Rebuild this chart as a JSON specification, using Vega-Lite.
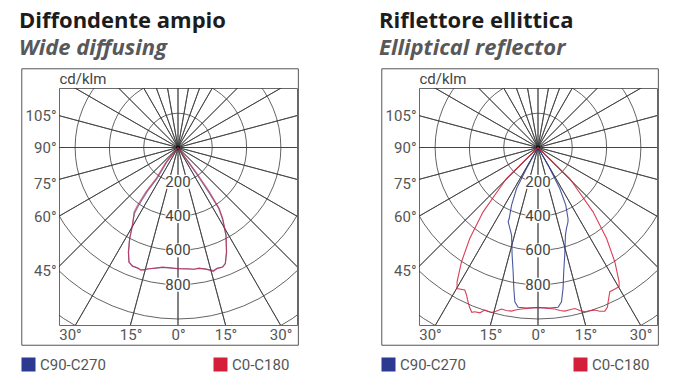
{
  "$schema": "https://vega.github.io/schema/vega-lite/v6.json",
  "background": "white",
  "padding": {"left": 18, "top": 9, "right": 10, "bottom": 10},
  "bounds": "flush",
  "spacing": 122,
  "config": {
    "view": {"stroke": "#6a6a6a", "strokeWidth": 1},
    "axis": {"domain": false, "ticks": false, "grid": false, "labelFont": "Roboto", "labelFontSize": 15, "labelColor": "#555555", "labelOverlap": false, "labelFlush": false, "labelBound": false},
    "title": {"font": "Open Sans", "fontSize": 22, "fontWeight": 700, "color": "#1c1c1c", "subtitleFont": "Open Sans", "subtitleFontSize": 22, "subtitleFontWeight": 700, "subtitleFontStyle": "italic", "subtitleColor": "#58585a", "subtitlePadding": 5, "anchor": "start", "frame": "group", "dx": -40, "offset": 8}
  },
  "resolve": {"scale": {"color": "independent"}, "legend": {"color": "independent"}},
  "datasets": {
    "grid_circles": [{"r": 200}, {"r": 400}, {"r": 600}, {"r": 800}, {"r": 1000}, {"r": 1200}],
    "grid_rays": [{"theta": 0}, {"theta": 10}, {"theta": 20}, {"theta": 30}, {"theta": 45}, {"theta": 60}, {"theta": 75}, {"theta": 90}, {"theta": 105}, {"theta": 120}, {"theta": 135}, {"theta": 150}, {"theta": 165}, {"theta": 180}, {"theta": 195}, {"theta": 210}, {"theta": 225}, {"theta": 240}, {"theta": 255}, {"theta": 270}, {"theta": 285}, {"theta": 300}, {"theta": 315}, {"theta": 330}, {"theta": 340}, {"theta": 350}],
    "ring_labels": [{"d": 200, "label": "200"}, {"d": 400, "label": "400"}, {"d": 600, "label": "600"}, {"d": 800, "label": "800"}],
    "center": [{"c": 0}],
    "wide_diffusing": [
      {"series": "C90-C270", "i": 0, "x": 0, "d": 0},
      {"series": "C90-C270", "i": 1, "x": -66, "d": 85},
      {"series": "C90-C270", "i": 2, "x": -123, "d": 182},
      {"series": "C90-C270", "i": 3, "x": -181, "d": 259},
      {"series": "C90-C270", "i": 4, "x": -230, "d": 338},
      {"series": "C90-C270", "i": 5, "x": -254, "d": 384},
      {"series": "C90-C270", "i": 6, "x": -266, "d": 452},
      {"series": "C90-C270", "i": 7, "x": -282, "d": 532},
      {"series": "C90-C270", "i": 8, "x": -289, "d": 609},
      {"series": "C90-C270", "i": 9, "x": -286, "d": 668},
      {"series": "C90-C270", "i": 10, "x": -266, "d": 692},
      {"series": "C90-C270", "i": 11, "x": -238, "d": 702},
      {"series": "C90-C270", "i": 12, "x": -220, "d": 710},
      {"series": "C90-C270", "i": 13, "x": -200, "d": 712},
      {"series": "C90-C270", "i": 14, "x": -168, "d": 707},
      {"series": "C90-C270", "i": 15, "x": -130, "d": 703},
      {"series": "C90-C270", "i": 16, "x": -91, "d": 699},
      {"series": "C90-C270", "i": 17, "x": -54, "d": 702},
      {"series": "C90-C270", "i": 18, "x": 0, "d": 707},
      {"series": "C90-C270", "i": 19, "x": 52, "d": 708},
      {"series": "C90-C270", "i": 20, "x": 93, "d": 710},
      {"series": "C90-C270", "i": 21, "x": 122, "d": 705},
      {"series": "C90-C270", "i": 22, "x": 163, "d": 709},
      {"series": "C90-C270", "i": 23, "x": 187, "d": 714},
      {"series": "C90-C270", "i": 24, "x": 206, "d": 718},
      {"series": "C90-C270", "i": 25, "x": 227, "d": 705},
      {"series": "C90-C270", "i": 26, "x": 260, "d": 697},
      {"series": "C90-C270", "i": 27, "x": 276, "d": 677},
      {"series": "C90-C270", "i": 28, "x": 283, "d": 609},
      {"series": "C90-C270", "i": 29, "x": 280, "d": 512},
      {"series": "C90-C270", "i": 30, "x": 260, "d": 418},
      {"series": "C90-C270", "i": 31, "x": 237, "d": 354},
      {"series": "C90-C270", "i": 32, "x": 178, "d": 259},
      {"series": "C90-C270", "i": 33, "x": 101, "d": 143},
      {"series": "C90-C270", "i": 34, "x": 0, "d": 0},
      {"series": "C0-C180", "i": 0, "x": 0, "d": 0},
      {"series": "C0-C180", "i": 1, "x": -70, "d": 85},
      {"series": "C0-C180", "i": 2, "x": -128, "d": 182},
      {"series": "C0-C180", "i": 3, "x": -187, "d": 259},
      {"series": "C0-C180", "i": 4, "x": -235, "d": 335},
      {"series": "C0-C180", "i": 5, "x": -256, "d": 376},
      {"series": "C0-C180", "i": 6, "x": -265, "d": 452},
      {"series": "C0-C180", "i": 7, "x": -282, "d": 532},
      {"series": "C0-C180", "i": 8, "x": -289, "d": 609},
      {"series": "C0-C180", "i": 9, "x": -286, "d": 668},
      {"series": "C0-C180", "i": 10, "x": -265, "d": 691},
      {"series": "C0-C180", "i": 11, "x": -236, "d": 703},
      {"series": "C0-C180", "i": 12, "x": -217, "d": 717},
      {"series": "C0-C180", "i": 13, "x": -200, "d": 714},
      {"series": "C0-C180", "i": 14, "x": -168, "d": 707},
      {"series": "C0-C180", "i": 15, "x": -130, "d": 703},
      {"series": "C0-C180", "i": 16, "x": -91, "d": 697},
      {"series": "C0-C180", "i": 17, "x": -54, "d": 700},
      {"series": "C0-C180", "i": 18, "x": 0, "d": 706},
      {"series": "C0-C180", "i": 19, "x": 52, "d": 707},
      {"series": "C0-C180", "i": 20, "x": 93, "d": 710},
      {"series": "C0-C180", "i": 21, "x": 122, "d": 703},
      {"series": "C0-C180", "i": 22, "x": 163, "d": 709},
      {"series": "C0-C180", "i": 23, "x": 187, "d": 717},
      {"series": "C0-C180", "i": 24, "x": 206, "d": 723},
      {"series": "C0-C180", "i": 25, "x": 227, "d": 706},
      {"series": "C0-C180", "i": 26, "x": 260, "d": 697},
      {"series": "C0-C180", "i": 27, "x": 276, "d": 677},
      {"series": "C0-C180", "i": 28, "x": 283, "d": 609},
      {"series": "C0-C180", "i": 29, "x": 280, "d": 512},
      {"series": "C0-C180", "i": 30, "x": 261, "d": 415},
      {"series": "C0-C180", "i": 31, "x": 241, "d": 357},
      {"series": "C0-C180", "i": 32, "x": 183, "d": 259},
      {"series": "C0-C180", "i": 33, "x": 105, "d": 143},
      {"series": "C0-C180", "i": 34, "x": 0, "d": 0}
    ],
    "elliptical_reflector": [
      {"series": "C90-C270", "i": 0, "x": 0, "d": 0},
      {"series": "C90-C270", "i": 1, "x": -67, "d": 122},
      {"series": "C90-C270", "i": 2, "x": -125, "d": 239},
      {"series": "C90-C270", "i": 3, "x": -154, "d": 336},
      {"series": "C90-C270", "i": 4, "x": -168, "d": 414},
      {"series": "C90-C270", "i": 5, "x": -174, "d": 433},
      {"series": "C90-C270", "i": 6, "x": -164, "d": 472},
      {"series": "C90-C270", "i": 7, "x": -154, "d": 511},
      {"series": "C90-C270", "i": 8, "x": -151, "d": 627},
      {"series": "C90-C270", "i": 9, "x": -145, "d": 725},
      {"series": "C90-C270", "i": 10, "x": -141, "d": 822},
      {"series": "C90-C270", "i": 11, "x": -135, "d": 900},
      {"series": "C90-C270", "i": 12, "x": -116, "d": 932},
      {"series": "C90-C270", "i": 13, "x": -67, "d": 936},
      {"series": "C90-C270", "i": 14, "x": 0, "d": 933},
      {"series": "C90-C270", "i": 15, "x": 69, "d": 936},
      {"series": "C90-C270", "i": 16, "x": 117, "d": 932},
      {"series": "C90-C270", "i": 17, "x": 137, "d": 900},
      {"series": "C90-C270", "i": 18, "x": 146, "d": 822},
      {"series": "C90-C270", "i": 19, "x": 150, "d": 725},
      {"series": "C90-C270", "i": 20, "x": 156, "d": 627},
      {"series": "C90-C270", "i": 21, "x": 160, "d": 511},
      {"series": "C90-C270", "i": 22, "x": 166, "d": 472},
      {"series": "C90-C270", "i": 23, "x": 175, "d": 433},
      {"series": "C90-C270", "i": 24, "x": 175, "d": 414},
      {"series": "C90-C270", "i": 25, "x": 162, "d": 336},
      {"series": "C90-C270", "i": 26, "x": 127, "d": 239},
      {"series": "C90-C270", "i": 27, "x": 69, "d": 122},
      {"series": "C90-C270", "i": 28, "x": 0, "d": 0},
      {"series": "C0-C180", "i": 0, "x": 0, "d": 0},
      {"series": "C0-C180", "i": 1, "x": -184, "d": 181},
      {"series": "C0-C180", "i": 2, "x": -320, "d": 375},
      {"series": "C0-C180", "i": 3, "x": -398, "d": 531},
      {"series": "C0-C180", "i": 4, "x": -446, "d": 666},
      {"series": "C0-C180", "i": 5, "x": -472, "d": 783},
      {"series": "C0-C180", "i": 6, "x": -472, "d": 822},
      {"series": "C0-C180", "i": 7, "x": -427, "d": 831},
      {"series": "C0-C180", "i": 8, "x": -417, "d": 860},
      {"series": "C0-C180", "i": 9, "x": -408, "d": 900},
      {"series": "C0-C180", "i": 10, "x": -398, "d": 935},
      {"series": "C0-C180", "i": 11, "x": -386, "d": 961},
      {"series": "C0-C180", "i": 12, "x": -368, "d": 958},
      {"series": "C0-C180", "i": 13, "x": -339, "d": 964},
      {"series": "C0-C180", "i": 14, "x": -310, "d": 948},
      {"series": "C0-C180", "i": 15, "x": -271, "d": 962},
      {"series": "C0-C180", "i": 16, "x": -245, "d": 955},
      {"series": "C0-C180", "i": 17, "x": -213, "d": 942},
      {"series": "C0-C180", "i": 18, "x": -185, "d": 950},
      {"series": "C0-C180", "i": 19, "x": -155, "d": 954},
      {"series": "C0-C180", "i": 20, "x": -125, "d": 946},
      {"series": "C0-C180", "i": 21, "x": -96, "d": 942},
      {"series": "C0-C180", "i": 22, "x": -48, "d": 937},
      {"series": "C0-C180", "i": 23, "x": 0, "d": 933},
      {"series": "C0-C180", "i": 24, "x": 48, "d": 937},
      {"series": "C0-C180", "i": 25, "x": 98, "d": 942},
      {"series": "C0-C180", "i": 26, "x": 128, "d": 950},
      {"series": "C0-C180", "i": 27, "x": 156, "d": 954},
      {"series": "C0-C180", "i": 28, "x": 185, "d": 946},
      {"series": "C0-C180", "i": 29, "x": 215, "d": 939},
      {"series": "C0-C180", "i": 30, "x": 245, "d": 950},
      {"series": "C0-C180", "i": 31, "x": 273, "d": 958},
      {"series": "C0-C180", "i": 32, "x": 300, "d": 952},
      {"series": "C0-C180", "i": 33, "x": 331, "d": 948},
      {"series": "C0-C180", "i": 34, "x": 360, "d": 955},
      {"series": "C0-C180", "i": 35, "x": 390, "d": 954},
      {"series": "C0-C180", "i": 36, "x": 405, "d": 930},
      {"series": "C0-C180", "i": 37, "x": 409, "d": 900},
      {"series": "C0-C180", "i": 38, "x": 419, "d": 841},
      {"series": "C0-C180", "i": 39, "x": 438, "d": 831},
      {"series": "C0-C180", "i": 40, "x": 473, "d": 812},
      {"series": "C0-C180", "i": 41, "x": 473, "d": 783},
      {"series": "C0-C180", "i": 42, "x": 448, "d": 666},
      {"series": "C0-C180", "i": 43, "x": 400, "d": 531},
      {"series": "C0-C180", "i": 44, "x": 321, "d": 375},
      {"series": "C0-C180", "i": 45, "x": 185, "d": 181},
      {"series": "C0-C180", "i": 46, "x": 0, "d": 0}
    ]
  },
  "hconcat": [
    {
      "width": 238,
      "height": 237,
      "title": {"text": "Diffondente ampio", "subtitle": "Wide diffusing"},
      "layer": [
        {
          "data": {"name": "center"},
          "mark": {"type": "rect", "filled": false, "stroke": "#555555", "strokeWidth": 1},
          "encoding": {
            "x": {"datum": -911, "type": "quantitative", "scale": {"domain": [-694, 694], "nice": false, "zero": false}, "axis": {"title": null, "values": [-630, -277, 0, 277, 598], "labelExpr": "datum.value == 0 ? '0°' : (abs(datum.value) < 400 ? '15°' : '30°')", "labelPadding": 2}},
            "x2": {"datum": 702},
            "y": {"datum": -459, "type": "quantitative", "scale": {"domain": [-347, 1035], "reverse": true, "nice": false, "zero": false}, "axis": {"title": "cd/klm", "titleAngle": 0, "titleAlign": "left", "titleBaseline": "middle", "titleX": 0, "titleY": -10, "titleFont": "Roboto", "titleFontSize": 15, "titleFontWeight": 400, "titleColor": "#444444", "values": [-184, 0, 207, 405, 715], "labelExpr": "datum.value < -100 ? '105°' : (datum.value < 100 ? '90°' : (datum.value < 300 ? '75°' : (datum.value < 550 ? '60°' : '45°')))", "labelPadding": 3}},
            "y2": {"datum": 1153}
          }
        },
        {
          "data": {"name": "grid_circles"},
          "mark": {"type": "point", "shape": "circle", "filled": false, "stroke": "#3c3c3c", "strokeWidth": 0.8, "opacity": 1, "clip": true},
          "encoding": {
            "x": {"datum": 0, "type": "quantitative"},
            "y": {"datum": 0, "type": "quantitative"},
            "size": {"field": "r", "type": "quantitative", "legend": null, "scale": {"type": "pow", "exponent": 2, "domain": [0, 1500], "range": [0, 264600], "zero": true}}
          }
        },
        {
          "data": {"name": "grid_rays"},
          "mark": {"type": "arc", "filled": false, "stroke": "#3c3c3c", "strokeWidth": 0.8, "clip": true},
          "encoding": {
            "x": {"datum": 0, "type": "quantitative"},
            "y": {"datum": 0, "type": "quantitative"},
            "theta": {"field": "theta", "type": "quantitative", "stack": null, "scale": {"domain": [0, 360], "range": [0, 6.283185]}},
            "theta2": {"field": "theta"},
            "radius": {"datum": 1500, "type": "quantitative", "scale": {"type": "linear", "domain": [0, 1500], "range": [0, 257.2], "zero": true}}
          }
        },
        {
          "data": {"name": "ring_labels"},
          "mark": {"type": "point", "shape": "M-1.8,-1H1.8V1H-1.8Z", "size": 196, "filled": true, "fill": "white", "opacity": 1, "strokeWidth": 0},
          "encoding": {
            "x": {"datum": 0, "type": "quantitative"},
            "y": {"field": "d", "type": "quantitative"}
          }
        },
        {
          "data": {"name": "ring_labels"},
          "mark": {"type": "text", "font": "Roboto", "fontSize": 15, "color": "#444444", "align": "center", "baseline": "middle"},
          "encoding": {
            "x": {"datum": 0, "type": "quantitative"},
            "y": {"field": "d", "type": "quantitative"},
            "text": {"field": "label"}
          }
        },
        {
          "data": {"name": "center"},
          "mark": {"type": "point", "shape": "square", "size": 14, "filled": true, "color": "#111111", "opacity": 1},
          "encoding": {
            "x": {"datum": 0, "type": "quantitative"},
            "y": {"datum": 0, "type": "quantitative"}
          }
        },
        {
          "data": {"name": "wide_diffusing"},
          "mark": {"type": "line", "strokeWidth": 1.2, "strokeOpacity": 0.65, "clip": true},
          "encoding": {
            "x": {"field": "x", "type": "quantitative"},
            "y": {"field": "d", "type": "quantitative"},
            "order": {"field": "i", "type": "quantitative"},
            "color": {"field": "series", "type": "nominal", "scale": {"domain": ["C90-C270", "C0-C180"], "range": ["#2b3990", "#d41f3a"]},
              "legend": {"orient": "none", "legendX": -38, "legendY": 269, "direction": "horizontal", "title": null, "symbolType": "square", "symbolSize": 1, "symbolStrokeWidth": 13, "symbolOpacity": 1, "symbolDash": [], "labelFont": "Roboto", "labelFontSize": 15, "labelColor": "#555555", "labelOffset": 4, "columnPadding": 88}}
          }
        }
      ]
    },
    {
      "width": 238,
      "height": 237,
      "title": {"text": "Riflettore ellittica", "subtitle": "Elliptical reflector"},
      "layer": [
        {
          "data": {"name": "center"},
          "mark": {"type": "rect", "filled": false, "stroke": "#555555", "strokeWidth": 1},
          "encoding": {
            "x": {"datum": -911, "type": "quantitative", "scale": {"domain": [-694, 694], "nice": false, "zero": false}, "axis": {"title": null, "values": [-630, -277, 0, 277, 598], "labelExpr": "datum.value == 0 ? '0°' : (abs(datum.value) < 400 ? '15°' : '30°')", "labelPadding": 2}},
            "x2": {"datum": 702},
            "y": {"datum": -459, "type": "quantitative", "scale": {"domain": [-347, 1035], "reverse": true, "nice": false, "zero": false}, "axis": {"title": "cd/klm", "titleAngle": 0, "titleAlign": "left", "titleBaseline": "middle", "titleX": 0, "titleY": -10, "titleFont": "Roboto", "titleFontSize": 15, "titleFontWeight": 400, "titleColor": "#444444", "values": [-184, 0, 207, 405, 715], "labelExpr": "datum.value < -100 ? '105°' : (datum.value < 100 ? '90°' : (datum.value < 300 ? '75°' : (datum.value < 550 ? '60°' : '45°')))", "labelPadding": 3}},
            "y2": {"datum": 1153}
          }
        },
        {
          "data": {"name": "grid_circles"},
          "mark": {"type": "point", "shape": "circle", "filled": false, "stroke": "#3c3c3c", "strokeWidth": 0.8, "opacity": 1, "clip": true},
          "encoding": {
            "x": {"datum": 0, "type": "quantitative"},
            "y": {"datum": 0, "type": "quantitative"},
            "size": {"field": "r", "type": "quantitative", "legend": null, "scale": {"type": "pow", "exponent": 2, "domain": [0, 1500], "range": [0, 264600], "zero": true}}
          }
        },
        {
          "data": {"name": "grid_rays"},
          "mark": {"type": "arc", "filled": false, "stroke": "#3c3c3c", "strokeWidth": 0.8, "clip": true},
          "encoding": {
            "x": {"datum": 0, "type": "quantitative"},
            "y": {"datum": 0, "type": "quantitative"},
            "theta": {"field": "theta", "type": "quantitative", "stack": null, "scale": {"domain": [0, 360], "range": [0, 6.283185]}},
            "theta2": {"field": "theta"},
            "radius": {"datum": 1500, "type": "quantitative", "scale": {"type": "linear", "domain": [0, 1500], "range": [0, 257.2], "zero": true}}
          }
        },
        {
          "data": {"name": "ring_labels"},
          "mark": {"type": "point", "shape": "M-1.8,-1H1.8V1H-1.8Z", "size": 196, "filled": true, "fill": "white", "opacity": 1, "strokeWidth": 0},
          "encoding": {
            "x": {"datum": 0, "type": "quantitative"},
            "y": {"field": "d", "type": "quantitative"}
          }
        },
        {
          "data": {"name": "ring_labels"},
          "mark": {"type": "text", "font": "Roboto", "fontSize": 15, "color": "#444444", "align": "center", "baseline": "middle"},
          "encoding": {
            "x": {"datum": 0, "type": "quantitative"},
            "y": {"field": "d", "type": "quantitative"},
            "text": {"field": "label"}
          }
        },
        {
          "data": {"name": "center"},
          "mark": {"type": "point", "shape": "square", "size": 14, "filled": true, "color": "#111111", "opacity": 1},
          "encoding": {
            "x": {"datum": 0, "type": "quantitative"},
            "y": {"datum": 0, "type": "quantitative"}
          }
        },
        {
          "data": {"name": "elliptical_reflector"},
          "mark": {"type": "line", "strokeWidth": 1.1, "strokeOpacity": 0.85, "clip": true},
          "encoding": {
            "x": {"field": "x", "type": "quantitative"},
            "y": {"field": "d", "type": "quantitative"},
            "order": {"field": "i", "type": "quantitative"},
            "color": {"field": "series", "type": "nominal", "scale": {"domain": ["C90-C270", "C0-C180"], "range": ["#2b3990", "#d41f3a"]},
              "legend": {"orient": "none", "legendX": -38, "legendY": 269, "direction": "horizontal", "title": null, "symbolType": "square", "symbolSize": 1, "symbolStrokeWidth": 13, "symbolOpacity": 1, "symbolDash": [], "labelFont": "Roboto", "labelFontSize": 15, "labelColor": "#555555", "labelOffset": 4, "columnPadding": 88}}
          }
        }
      ]
    }
  ]
}
